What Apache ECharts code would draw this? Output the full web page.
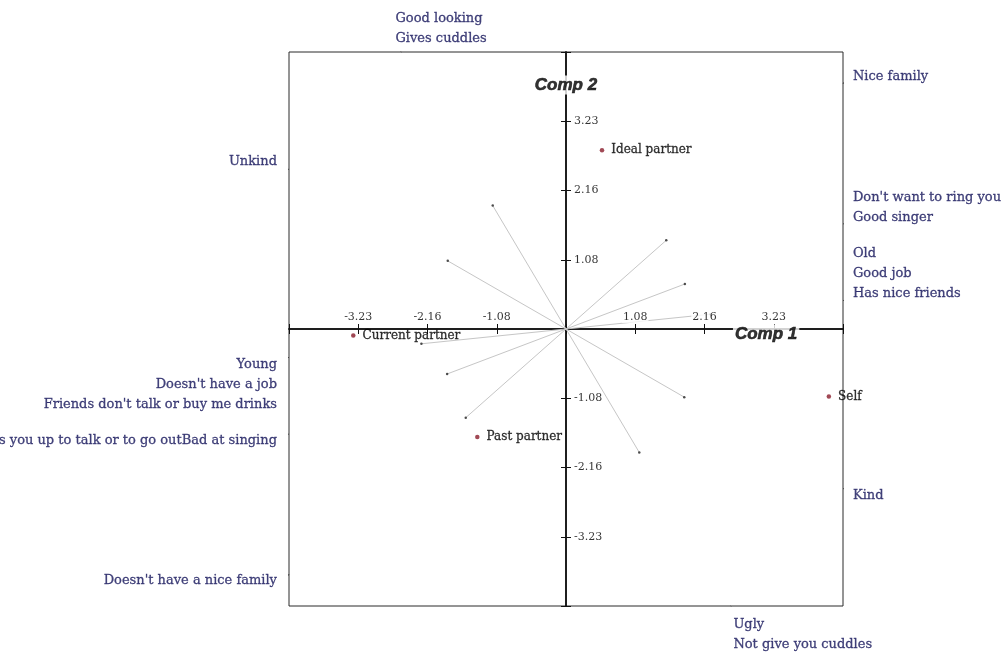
<!DOCTYPE html>
<html>
<head>
<meta charset="utf-8">
<script src="https://cdn.jsdelivr.net/npm/echarts@6/dist/echarts.min.js"></script>
<style>
  html, body { margin: 0; padding: 0; background: #fff; }
  #chart { width: 1002px; height: 653px; }
</style>
</head>
<body>
<div id="chart"></div>
<script>
// Repertory-grid biplot: elements plotted on the first two components,
// constructs drawn as lines through the origin with a pole label at each end.

const elementNames = ['Ideal partner', 'Current partner', 'Past partner', 'Self'];
const elementComp1 = [0.56, -3.31, -1.38, 4.09];
const elementComp2 = [2.78, -0.10, -1.68, -1.05];

// Construct loadings: the first pole lies at +loading, the opposite pole at -loading
const constructComp1 = [-1.14, -1.84, 1.56, 1.85, 2.25];
const constructComp2 = [1.92, 1.06, 1.38, 0.70, 0.23];
const firstPoles = [
  ['Good looking', 'Gives cuddles'],
  ['Unkind'],
  ['Nice family'],
  ["Don't want to ring you", 'Good singer'],
  ['Old', 'Good job', 'Has nice friends']
];
const oppositePoles = [
  ['Ugly', 'Not give you cuddles'],
  ['Kind'],
  ["Doesn't have a nice family"],
  ['Rings you up to talk or to go outBad at singing'],
  ['Young', "Doesn't have a job", "Friends don't talk or buy me drinks"]
];

const axisLimit = 4.31;
const tickStep = 1.0775;
// labelled ticks, counted in steps from the origin
const tickSteps = [-3, -2, -1, 1, 2, 3];
const tickLabels = ['-3.23', '-2.16', '-1.08', '1.08', '2.16', '3.23'];
const axisTitles = ['Comp 1', 'Comp 2'];

const serif = '"DejaVu Serif", "Liberation Serif", serif';
const poleColor = '#14145a';

// Where a construct's direction meets the plot frame
function edgePoint(x, y) {
  const t = axisLimit / Math.max(Math.abs(x), Math.abs(y));
  return [x * t, y * t];
}

function poleLabel(x, y) {
  const side = Math.abs(x) >= Math.abs(y) ? (x > 0 ? 'right' : 'left') : (y > 0 ? 'top' : 'bottom');
  if (side === 'right') {
    return y > 0 ? { position: [10, 3], align: 'left', verticalAlign: 'bottom' }
                 : { position: [10, -3], align: 'left', verticalAlign: 'top' };
  }
  if (side === 'left') {
    return y > 0 ? { position: [-12, 2], align: 'right', verticalAlign: 'bottom' }
                 : { position: [-12, -3], align: 'right', verticalAlign: 'top' };
  }
  if (side === 'top') return { position: [-6, -3], align: 'left', verticalAlign: 'bottom' };
  return { position: [3, 9], align: 'left', verticalAlign: 'top' };
}

const constructLines = [];
const constructEnds = [];
const poleMarks = [];
const leaders = [];
constructComp1.forEach(function (cx, i) {
  const cy = constructComp2[i];
  constructLines.push({ coords: [[-cx, -cy], [cx, cy]] });
  [[1, firstPoles[i]], [-1, oppositePoles[i]]].forEach(function (pair) {
    const s = pair[0];
    const x = s * cx, y = s * cy;
    constructEnds.push([x, y]);
    const e = edgePoint(x, y);
    const len = Math.sqrt(x * x + y * y);
    leaders.push({ coords: [e, [e[0] + x / len * 0.09, e[1] + y / len * 0.09]] });
    poleMarks.push({
      value: e,
      name: pair[1].join('\n'),
      label: Object.assign({ show: true, formatter: '{b}' }, poleLabel(x, y))
    });
  });
});

const elements = elementNames.map(function (n, i) {
  return { name: n, value: [elementComp1[i], elementComp2[i]] };
});

const xTickMarks = tickSteps.map(function (k, i) {
  return { name: tickLabels[i], value: [k * tickStep, 0] };
});
const yTickMarks = tickSteps.map(function (k, i) {
  return { name: tickLabels[i], value: [0, k * tickStep] };
});

// Axis titles sit on their axis, a little in from the frame
const titleMarks = [
  { name: axisTitles[0], value: [axisLimit, 0],
    label: { position: [-110, 5], align: 'left', verticalAlign: 'middle' } },
  { name: axisTitles[1], value: [0, axisLimit],
    label: { position: [0, 33], align: 'center', verticalAlign: 'middle' } }
];

const baseAxis = {
  type: 'value',
  min: -axisLimit,
  max: axisLimit,
  interval: tickStep,
  splitLine: { show: false },
  axisLabel: { show: false }
};
const axisLineStyle = { color: '#111', width: 1.5 };
const tickLabelStyle = {
  show: true, formatter: '{b}', fontFamily: serif, fontSize: 11, color: '#000',
  backgroundColor: '#fff', padding: [0, 1]
};
const hidden = { symbolSize: 0.1, itemStyle: { color: 'rgba(0,0,0,0)' } };

const chart = echarts.init(document.getElementById('chart'), null, { renderer: 'canvas' });
chart.setOption({
  backgroundColor: '#fff',
  animation: false,
  grid: {
    left: 289, top: 52, width: 554, height: 554,
    show: true, borderColor: '#2a2a2a', borderWidth: 1, backgroundColor: 'transparent',
    containLabel: false, outerBoundsMode: 'none'
  },
  xAxis: [
    Object.assign({}, baseAxis, {
      position: 'top',
      axisLine: { onZero: true, lineStyle: axisLineStyle },
      axisTick: { length: 5, lineStyle: { color: '#111' } }
    }),
    Object.assign({}, baseAxis, {
      position: 'top',
      axisLine: { onZero: true, lineStyle: axisLineStyle },
      axisTick: { inside: true, length: 5, lineStyle: { color: '#111' } }
    })
  ],
  yAxis: [
    Object.assign({}, baseAxis, {
      position: 'right',
      axisLine: { onZero: true, lineStyle: axisLineStyle },
      axisTick: { length: 5, lineStyle: { color: '#111' } }
    }),
    Object.assign({}, baseAxis, {
      position: 'right',
      axisLine: { onZero: true, lineStyle: axisLineStyle },
      axisTick: { inside: true, length: 5, lineStyle: { color: '#111' } }
    })
  ],
  series: [
    {
      name: 'constructs',
      type: 'lines',
      coordinateSystem: 'cartesian2d',
      xAxisIndex: 0, yAxisIndex: 0,
      silent: true,
      z: 1,
      lineStyle: { color: '#c6c6c6', width: 1, opacity: 1 },
      data: constructLines
    },
    {
      name: 'construct ends',
      type: 'scatter',
      xAxisIndex: 0, yAxisIndex: 0,
      silent: true,
      symbolSize: 2.5,
      itemStyle: { color: '#222' },
      data: constructEnds
    },
    {
      name: 'leaders',
      type: 'lines',
      coordinateSystem: 'cartesian2d',
      xAxisIndex: 0, yAxisIndex: 0,
      silent: true,
      lineStyle: { color: '#444', width: 1, opacity: 1, curveness: 0.3 },
      data: leaders
    },
    Object.assign({
      name: 'x tick labels',
      type: 'scatter',
      xAxisIndex: 0, yAxisIndex: 0,
      silent: true,
      label: Object.assign({ position: 'top', distance: 6 }, tickLabelStyle),
      data: xTickMarks
    }, hidden),
    Object.assign({
      name: 'y tick labels',
      type: 'scatter',
      xAxisIndex: 0, yAxisIndex: 0,
      silent: true,
      label: Object.assign({ position: 'right', distance: 7 }, tickLabelStyle),
      data: yTickMarks
    }, hidden),
    Object.assign({
      name: 'axis titles',
      type: 'scatter',
      xAxisIndex: 0, yAxisIndex: 0,
      silent: true,
      label: {
        show: true, formatter: '{b}',
        fontFamily: '"Liberation Sans", Arial, sans-serif', fontStyle: 'italic', fontWeight: 'bold',
        fontSize: 17, color: '#000', textBorderColor: '#000', textBorderWidth: 0.6,
        backgroundColor: '#fff', padding: [1, 2]
      },
      data: titleMarks
    }, hidden),
    Object.assign({
      name: 'poles',
      type: 'scatter',
      xAxisIndex: 0, yAxisIndex: 0,
      silent: true,
      label: {
        show: true, fontFamily: serif, fontSize: 13, lineHeight: 20, color: poleColor,
        textBorderColor: poleColor, textBorderWidth: 0.3
      },
      data: poleMarks
    }, hidden),
    {
      name: 'elements',
      type: 'scatter',
      xAxisIndex: 0, yAxisIndex: 0,
      silent: true,
      symbolSize: 4.5,
      itemStyle: { color: '#8a1c2a' },
      label: {
        show: true, position: 'right', distance: 7, formatter: '{b}',
        fontFamily: serif, fontSize: 12, color: '#000',
        textBorderColor: '#000', textBorderWidth: 0.3
      },
      data: elements
    }
  ]
});
</script>
</body>
</html>
